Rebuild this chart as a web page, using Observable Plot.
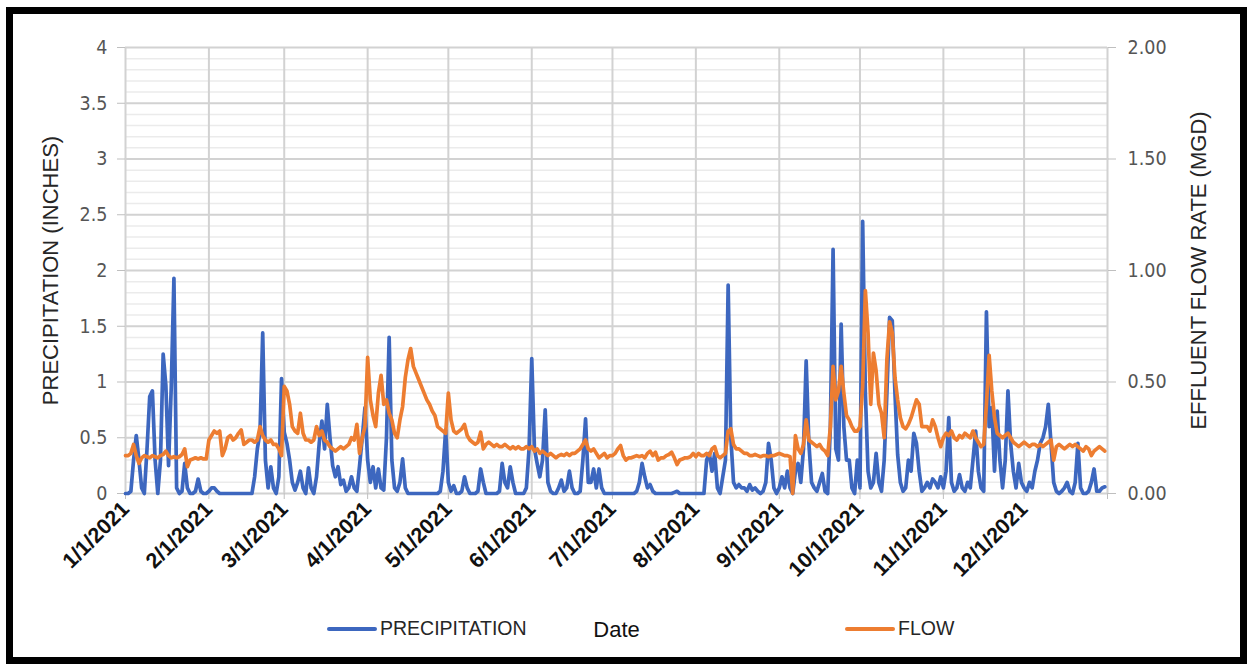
<!DOCTYPE html>
<html>
<head>
<meta charset="utf-8">
<script src="https://cdn.jsdelivr.net/npm/d3@7"></script>
<script src="https://cdn.jsdelivr.net/npm/@observablehq/plot@0.6"></script>
<style>
  html, body { margin: 0; padding: 0; background: #fff; }
  #wrap { position: relative; width: 1247px; height: 664px; overflow: hidden; }
  #chart svg { position: absolute; left: 0; top: 0; }
  #frame { position: absolute; left: 6px; top: 7px; width: 1227px; height: 643px; border: 7px solid #000; }
  .legend { position: absolute; top: 617px; font-family: "Liberation Sans", Arial, sans-serif; font-size: 19.5px; color: #262626; display: flex; align-items: center; }
  .legend .swatch { display: inline-block; width: 50px; height: 4px; border-radius: 2px; margin-right: 3px; }
</style>
</head>
<body>
<div id="wrap">
  <div id="chart"></div>
  <div class="legend" style="left:327px"><span class="swatch" style="background:#3d67bf"></span>PRECIPITATION</div>
  <div class="legend" style="left:845px"><span class="swatch" style="background:#ed7d31"></span>FLOW</div>
  <div id="frame"></div>
</div>
<script>
// Daily precipitation (inches), one array per month of 2021
const precipitation = [
  [0,0,0.02,0.3,0.52,0.3,0.05,0,0.4,0.87,0.92,0.3,0,0.3,1.25,0.97,0.25,0.95,1.93,0.05,0,0.02,0.27,0.05,0,0,0.02,0.13,0.02,0,0],
  [0.02,0.05,0.05,0.02,0,0,0,0,0,0,0,0,0,0,0,0,0,0.15,0.4,0.55,1.44,0.3,0.05,0.24,0.05,0,0.15,1.03],
  [0.55,0.45,0.3,0.1,0.03,0.1,0.2,0.05,0,0.23,0.05,0,0.15,0.45,0.65,0.4,0.8,0.5,0.25,0.15,0.24,0.08,0.12,0.02,0.05,0.15,0.05,0.02,0.25,0.5,0.77],
  [0.3,0.1,0.24,0.05,0.22,0.05,0.03,0.5,1.4,0.3,0.05,0.02,0.1,0.31,0.05,0,0,0,0,0,0,0,0,0,0,0,0,0.02,0.2,0.57],
  [0.1,0.02,0.07,0,0,0.02,0.15,0.05,0,0,0,0.02,0.22,0.1,0,0,0,0,0,0.02,0.27,0.1,0.05,0.24,0.1,0,0,0,0,0.05,0.4],
  [1.21,0.4,0.27,0.15,0.3,0.75,0.1,0.02,0,0,0.05,0.12,0.02,0.05,0.2,0.05,0,0,0.02,0.3,0.67,0.1,0.1,0.22,0.05,0.22,0.05,0,0,0],
  [0,0,0,0,0,0,0,0,0,0.02,0.1,0.27,0.15,0.05,0.08,0.02,0,0,0,0,0,0,0,0.01,0.02,0,0,0,0,0,0],
  [0,0,0,0,0.3,0.36,0.2,0.36,0.05,0,0.15,0.3,1.87,0.5,0.1,0.05,0.08,0.05,0.05,0.02,0.08,0.03,0.05,0.02,0,0.02,0.1,0.45,0.3,0.05,0],
  [0.05,0.15,0.05,0.2,0.05,0,0.2,0.27,0.1,0.4,1.19,0.45,0.1,0.05,0.02,0.1,0.18,0.02,0,0.6,2.19,0.4,0.3,1.52,0.6,0.3,0.3,0.05,0,0.3],
  [0.05,2.44,0.9,0.2,0.05,0.1,0.36,0.1,0.02,0.3,0.9,1.58,1.55,0.9,0.35,0.1,0.02,0.05,0.3,0.2,0.54,0.45,0.2,0.02,0.05,0.1,0.05,0.13,0.1,0.05,0.15],
  [0.05,0.2,0.68,0.1,0.02,0.05,0.17,0.05,0.02,0.1,0.05,0.3,0.56,0.2,0.05,0.02,1.63,0.6,0.77,0.2,0.74,0.3,0.05,0.3,0.92,0.45,0.2,0.05,0.27,0.1],
  [0.05,0.02,0.1,0.05,0.2,0.3,0.45,0.5,0.6,0.8,0.45,0.1,0.02,0,0.02,0.05,0.1,0.02,0,0.1,0.45,0.05,0,0,0.02,0.1,0.22,0.02,0.02,0.05,0.06]
];

// Daily effluent flow rate (MGD), one array per month of 2021
const flow = [
  [0.17,0.17,0.18,0.22,0.17,0.135,0.16,0.17,0.165,0.16,0.17,0.165,0.16,0.17,0.175,0.19,0.17,0.16,0.165,0.16,0.165,0.175,0.2,0.12,0.15,0.155,0.16,0.155,0.16,0.155,0.155],
  [0.24,0.26,0.28,0.27,0.28,0.17,0.2,0.25,0.26,0.24,0.25,0.27,0.285,0.22,0.23,0.24,0.24,0.23,0.24,0.3,0.26,0.24,0.23,0.24,0.22,0.22,0.2,0.17],
  [0.48,0.46,0.4,0.3,0.28,0.27,0.36,0.27,0.24,0.24,0.23,0.24,0.3,0.26,0.28,0.24,0.23,0.21,0.2,0.19,0.2,0.21,0.2,0.21,0.22,0.25,0.24,0.31,0.18,0.25,0.3],
  [0.61,0.42,0.35,0.3,0.45,0.53,0.4,0.42,0.36,0.33,0.27,0.25,0.33,0.39,0.52,0.6,0.65,0.57,0.54,0.51,0.48,0.45,0.42,0.4,0.37,0.35,0.3,0.29,0.28,0.27],
  [0.45,0.33,0.28,0.27,0.28,0.29,0.31,0.26,0.24,0.23,0.22,0.23,0.275,0.2,0.22,0.23,0.22,0.21,0.22,0.21,0.21,0.22,0.21,0.2,0.21,0.2,0.21,0.2,0.2,0.21,0.2],
  [0.21,0.19,0.2,0.18,0.19,0.18,0.17,0.18,0.17,0.16,0.17,0.175,0.17,0.18,0.17,0.18,0.18,0.19,0.2,0.22,0.24,0.2,0.19,0.2,0.18,0.16,0.17,0.18,0.16,0.17],
  [0.17,0.18,0.2,0.215,0.17,0.15,0.16,0.16,0.165,0.17,0.165,0.17,0.16,0.18,0.19,0.17,0.185,0.15,0.16,0.16,0.17,0.175,0.185,0.16,0.13,0.15,0.155,0.16,0.16,0.165,0.18],
  [0.165,0.18,0.17,0.17,0.18,0.17,0.2,0.21,0.17,0.16,0.17,0.18,0.28,0.29,0.22,0.2,0.2,0.19,0.18,0.18,0.17,0.17,0.175,0.17,0.165,0.17,0.17,0.165,0.17,0.17,0.175],
  [0.18,0.175,0.17,0.17,0.165,0,0.26,0.2,0.18,0.22,0.33,0.24,0.23,0.22,0.21,0.22,0.2,0.19,0.17,0.3,0.57,0.42,0.46,0.57,0.45,0.35,0.33,0.3,0.28,0.28],
  [0.3,0.48,0.91,0.72,0.4,0.63,0.55,0.4,0.36,0.25,0.6,0.77,0.72,0.52,0.42,0.34,0.3,0.29,0.31,0.34,0.38,0.42,0.4,0.3,0.3,0.3,0.28,0.33,0.3,0.25,0.21],
  [0.25,0.27,0.26,0.28,0.25,0.24,0.26,0.25,0.27,0.26,0.25,0.28,0.25,0.23,0.21,0.22,0.4,0.62,0.46,0.34,0.27,0.26,0.25,0.26,0.27,0.25,0.23,0.22,0.21,0.22],
  [0.23,0.22,0.21,0.22,0.22,0.21,0.22,0.21,0.22,0.23,0.24,0.15,0.21,0.22,0.21,0.2,0.21,0.22,0.21,0.22,0.21,0.2,0.19,0.21,0.2,0.17,0.19,0.2,0.21,0.2,0.19]
];

// Axis ticks
const precipTicks = [0, 0.5, 1, 1.5, 2, 2.5, 3, 3.5, 4];
const precipTickLabels = ["0", "0.5", "1", "1.5", "2", "2.5", "3", "3.5", "4"];
const flowTicks = [0, 0.5, 1, 1.5, 2];
const flowTickLabels = ["0.00", "0.50", "1.00", "1.50", "2.00"];
const minorStep = 0.1;

// Flow shares the precipitation y scale: 2 inches of precipitation axis = 1 MGD
const flowToPrecip = 4 / 2;

const series = precipitation.flatMap((month, m) =>
  month.map((p, i) => ({
    date: new Date(Date.UTC(2021, m, i + 1)),
    precip: p,
    flow: flow[m][i]
  }))
);

const start = new Date(Date.UTC(2021, 0, 1));
const end = new Date(Date.UTC(2022, 0, 1));
const monthEdges = d3.utcMonth.range(start, d3.utcDay.offset(end, 1));
const minorLines = d3.range(0, 40).map(i => i * minorStep).filter(v => Math.abs(v * 2 - Math.round(v * 2)) > 1e-6);

const tickFont = '"Liberation Sans Narrow", "DejaVu Sans Condensed", Arial, sans-serif';
const titleFont = '"Liberation Sans", Arial, sans-serif';
const fmtDate = d3.utcFormat("%-m/%-d/%Y");

const chart = Plot.plot({
  width: 1247,
  height: 664,
  marginLeft: 125,
  marginRight: 140,
  marginTop: 47,
  marginBottom: 171,
  style: { background: "transparent", fontFamily: titleFont, overflow: "visible" },
  x: { type: "utc", domain: [start, end] },
  y: { domain: [0, 4] },
  marks: [
    Plot.ruleY(minorLines, { stroke: "#ebebeb", strokeWidth: 1.5 }),
    Plot.ruleY(precipTicks, { stroke: "#d2d2d2", strokeWidth: 2 }),
    Plot.ruleX(monthEdges, { stroke: "#d2d2d2", strokeWidth: 2 }),
    Plot.axisY({
      anchor: "left", ticks: precipTicks,
      tickFormat: (d, i) => precipTickLabels[i],
      tickSize: 8, tickPadding: 10, stroke: "#bfbfbf",
      fontFamily: tickFont, fontSize: 19.5, color: "#555",
      label: null
    }),
    Plot.axisY({
      anchor: "left", ticks: [],
      label: "PRECIPITATION (INCHES)", labelAnchor: "center", labelArrow: "none",
      labelOffset: 83, fontFamily: titleFont, fontSize: 22, color: "#262626"
    }),
    Plot.axisY({
      anchor: "right", ticks: flowTicks.map(v => v * flowToPrecip),
      tickFormat: (d, i) => flowTickLabels[i],
      tickSize: 8, tickPadding: 12, stroke: "#bfbfbf",
      fontFamily: tickFont, fontSize: 19.5, color: "#555",
      label: null
    }),
    Plot.axisY({
      anchor: "right", ticks: [],
      label: "EFFLUENT FLOW RATE (MGD)", labelAnchor: "center", labelArrow: "none",
      labelOffset: 98, fontFamily: titleFont, fontSize: 22, color: "#262626"
    }),
    Plot.axisX({
      ticks: monthEdges, tickFormat: d => (d < end ? fmtDate(d) : ""),
      tickRotate: -45, tickSize: 6, tickPadding: 6, stroke: "#bfbfbf",
      fontFamily: titleFont, fontSize: 21.5, fontWeight: "bold", color: "#111",
      label: null
    }),
    Plot.axisX({
      ticks: [], label: "Date", labelAnchor: "center", labelArrow: "none",
      labelOffset: 143, dx: -10, fontFamily: titleFont, fontSize: 22, color: "#111"
    }),
    Plot.lineY(series, { x: "date", y: "precip", stroke: "#3d67bf", strokeWidth: 3.7, strokeLinejoin: "round" }),
    Plot.lineY(series, { x: "date", y: d => d.flow * flowToPrecip, stroke: "#ed7d31", strokeWidth: 3.7, strokeLinejoin: "round" })
  ]
});

document.getElementById("chart").append(chart);
</script>
</body>
</html>
